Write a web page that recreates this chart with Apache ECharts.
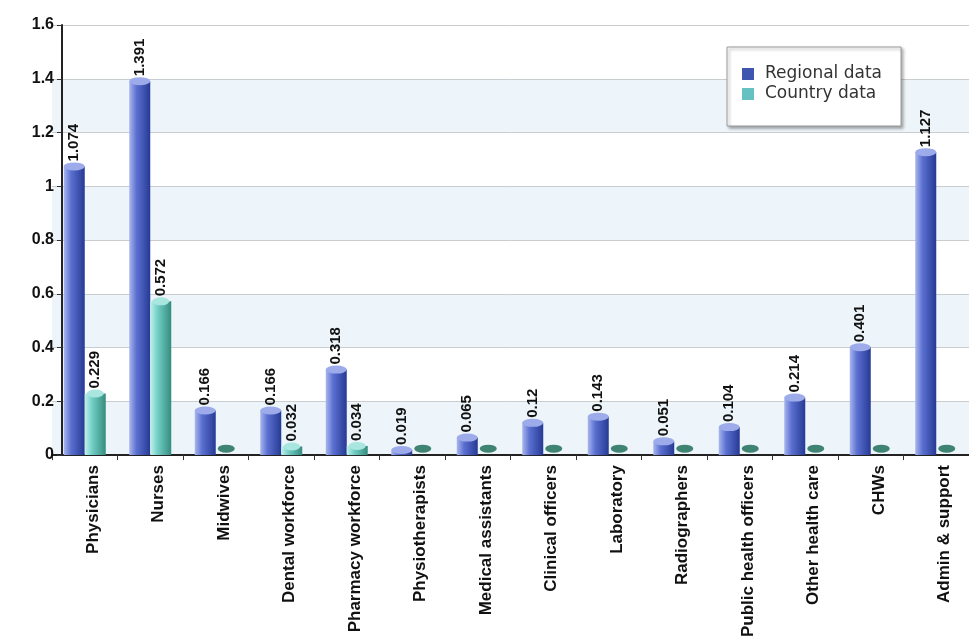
<!DOCTYPE html>
<html>
<head>
<meta charset="utf-8">
<script src="https://cdn.jsdelivr.net/npm/echarts@6/dist/echarts.min.js"></script>
<style>
  html, body { margin: 0; padding: 0; background: #ffffff; }
  #chart { width: 969px; height: 640px; }
</style>
</head>
<body>
<div id="chart"></div>
<script>
// Health workforce density by cadre
const categories = [
  'Physicians', 'Nurses', 'Midwives', 'Dental workforce', 'Pharmacy workforce',
  'Physiotherapists', 'Medical assistants', 'Clinical officers', 'Laboratory',
  'Radiographers', 'Public health officers', 'Other health care', 'CHWs', 'Admin & support'
];
const regionalData = [1.074, 1.391, 0.166, 0.166, 0.318, 0.019, 0.065, 0.12, 0.143, 0.051, 0.104, 0.214, 0.401, 1.127];
const countryData = [0.229, 0.572, 0, 0.032, 0.034, 0, 0, 0, 0, 0, 0, 0, 0, 0];
const seriesNames = ['Regional data', 'Country data'];
const yMin = 0, yMax = 1.6, yStep = 0.2;

const chart = echarts.init(document.getElementById('chart'), null, { renderer: 'canvas' });

const FONT = 'Liberation Sans, Arial, sans-serif';
const BAR_W = 21;
const ellipse = 'path://M0,5A10,5 0 1,0 20,5A10,5 0 1,0 0,5Z';

const blueBody = new echarts.graphic.LinearGradient(0, 0, 1, 0, [
  { offset: 0, color: '#a9b6ee' },
  { offset: 0.35, color: '#5a6fd0' },
  { offset: 1, color: '#263a94' }
]);
const tealBody = new echarts.graphic.LinearGradient(0, 0, 1, 0, [
  { offset: 0, color: '#c2f1ec' },
  { offset: 0.35, color: '#72cfc6' },
  { offset: 1, color: '#348c7d' }
]);

const valueLabel = {
  show: true,
  position: 'top',
  rotate: 90,
  align: 'left',
  verticalAlign: 'middle',
  distance: 5,
  color: '#111',
  fontFamily: FONT,
  fontWeight: 'bold',
  fontSize: 15,
  formatter: p => (p.value === 0 ? '' : String(p.value))
};

chart.setOption({
  animation: false,
  backgroundColor: '#ffffff',
  grid: { left: 52, top: 25, width: 934, bottom: 183, containLabel: false },
  legend: {
    orient: 'vertical',
    left: 727,
    top: 47,
    padding: [17, 19, 22, 15],
    itemWidth: 12,
    itemHeight: 12,
    itemGap: 0,
    backgroundColor: '#ffffff',
    borderColor: '#9a9a9a',
    borderWidth: 1,
    shadowColor: 'rgba(0,0,0,0.35)',
    shadowBlur: 3,
    shadowOffsetX: 2,
    shadowOffsetY: 2,
    textStyle: {
      fontFamily: 'DejaVu Sans, sans-serif',
      fontSize: 17,
      lineHeight: 20,
      color: '#333',
      padding: [0, 0, 0, 6]
    },
    data: [
      { name: seriesNames[0], icon: 'rect', itemStyle: { color: '#3f56b1' } },
      { name: seriesNames[1], icon: 'rect', itemStyle: { color: '#66c1c2' } }
    ]
  },
  xAxis: {
    type: 'category',
    data: categories,
    boundaryGap: true,
    axisLine: { lineStyle: { color: '#222', width: 2 } },
    axisTick: { show: true, length: 5, lineStyle: { color: '#333' } },
    axisLabel: {
      rotate: 90,
      interval: 0,
      margin: 10,
      verticalAlign: 'top',
      color: '#111',
      fontFamily: FONT,
      fontWeight: 'bold',
      fontSize: 17
    }
  },
  yAxis: {
    type: 'value',
    min: yMin,
    max: yMax,
    interval: yStep,
    offset: -10,
    axisLine: { show: true, lineStyle: { color: '#222', width: 2 } },
    axisTick: { show: true, length: 5, lineStyle: { color: '#333' } },
    axisLabel: { color: '#111', fontFamily: FONT, fontWeight: 'bold', fontSize: 16, margin: 8 },
    splitLine: { show: true, lineStyle: { color: '#c9cdd0', width: 1 } },
    splitArea: { show: true, areaStyle: { color: ['#edf5fa', '#ffffff'] } }
  },
  series: [
    {
      name: seriesNames[0],
      type: 'bar',
      data: regionalData,
      barWidth: BAR_W,
      barGap: '0%',
      itemStyle: { color: blueBody },
      label: valueLabel,
      z: 2
    },
    {
      name: seriesNames[1],
      type: 'bar',
      data: countryData,
      barWidth: BAR_W,
      barGap: '0%',
      itemStyle: { color: tealBody },
      label: valueLabel,
      z: 2
    },
    {
      name: seriesNames[0],
      type: 'pictorialBar',
      data: regionalData,
      symbol: ellipse,
      symbolSize: [BAR_W, 8],
      symbolPosition: 'end',
      symbolOffset: [0, '-50%'],
      barWidth: BAR_W,
      barGap: '0%',
      itemStyle: { color: '#9dabea' },
      z: 3
    },
    {
      name: seriesNames[1],
      type: 'pictorialBar',
      data: countryData.map(v => ({
        value: v,
        symbolOffset: [0, v === 0 ? '-130%' : '-50%'],
        itemStyle: { color: v === 0 ? '#3f8473' : '#a8e6df' }
      })),
      symbol: ellipse,
      symbolSize: [BAR_W - 4, 8],
      symbolPosition: 'end',
      barWidth: BAR_W,
      barGap: '0%',
      z: 3
    }
  ]
});
</script>
</body>
</html>
